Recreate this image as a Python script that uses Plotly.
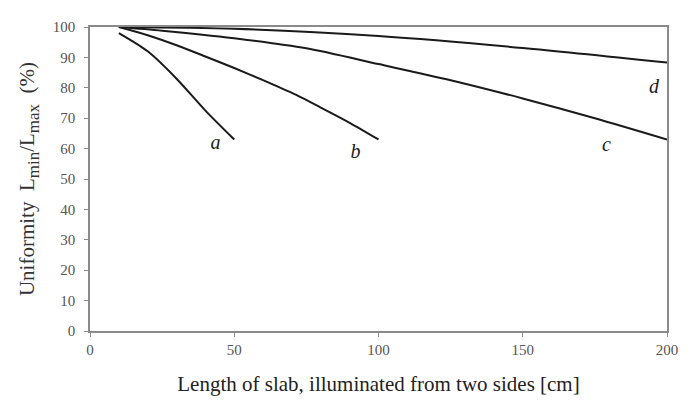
import plotly.graph_objects as go

x_a = [10, 20, 30, 40, 50]
y_a = [98, 92, 83, 72.5, 63]
x_b = [10, 20, 30, 40, 50, 60, 70, 80, 90, 100]
y_b = [100, 97.3, 94, 90.3, 86.5, 82.5, 78.3, 73.5, 68.5, 63]
x_c = [10, 25, 50, 75, 100, 125, 150, 175, 200]
y_c = [100, 98.8, 96.3, 93, 87.8, 82.5, 76.5, 70, 63]
x_d = [10, 50, 100, 150, 200]
y_d = [100, 99.4, 97, 93.1, 88.3]

labels = ["<i>a</i>", "<i>b</i>", "<i>c</i>", "<i>d</i>"]
label_x = [43.5, 92, 179, 195.5]
label_y = [61.5, 58.5, 61, 80]

SERIF = "Times New Roman, Liberation Serif, serif"

fig = go.Figure()
for xs, ys in [(x_a, y_a), (x_b, y_b), (x_c, y_c), (x_d, y_d)]:
    fig.add_trace(go.Scatter(x=xs, y=ys, mode="lines",
                             line=dict(color="#1a1a1a", width=2, shape="spline", smoothing=0.8),
                             showlegend=False, hoverinfo="skip"))
fig.add_trace(go.Scatter(x=label_x, y=label_y, mode="text", text=labels,
                         textfont=dict(family=SERIF, size=20, color="#222"),
                         showlegend=False, hoverinfo="skip"))

axis_common = dict(showgrid=False, zeroline=False, showline=True, linecolor="#8a8a8a", linewidth=1.5,
                   mirror=True, ticks="outside", tickcolor="#8a8a8a", ticklen=4,
                   tickfont=dict(family=SERIF, size=15, color="#555"))
fig.update_xaxes(range=[0, 200], tickvals=[0, 50, 100, 150, 200], **axis_common,
                 title=dict(text="Length of slab, illuminated from two sides [cm]",
                            font=dict(family=SERIF, size=21, color="#222"), standoff=20))
fig.update_yaxes(range=[0, 100], tickvals=list(range(0, 101, 10)), **axis_common,
                 ticklabelstandoff=6,
                 title=dict(text="Uniformity  L<sub><span style='font-size:17px'>min</span></sub>"
                                 "/L<sub><span style='font-size:17px'>max</span></sub>  (%)",
                            font=dict(family=SERIF, size=21, color="#333"), standoff=12))
fig.update_layout(width=693, height=403, margin=dict(l=82, r=34, t=11, b=80),
                  plot_bgcolor="white", paper_bgcolor="white")
fig.write_html("out.html")
